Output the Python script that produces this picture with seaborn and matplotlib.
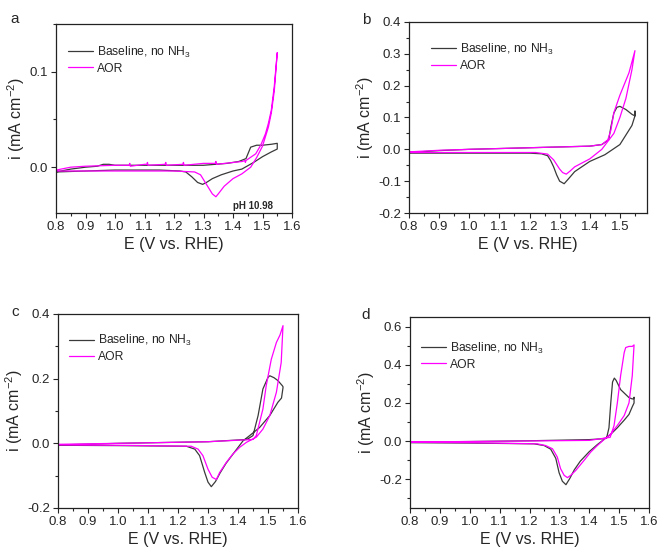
import matplotlib
matplotlib.use("Agg")
import matplotlib.pyplot as plt
from matplotlib.lines import Line2D
from matplotlib.ticker import MultipleLocator, FormatStrFormatter
import seaborn as sns
import pandas as pd

# ---------------- data (closed CV loops: forward then reverse) ----------------
a_base_E = [0.80, 0.85, 0.90, 0.94, 0.96, 0.98, 1.00, 1.10, 1.20, 1.30, 1.38, 1.42, 1.444, 1.46, 1.48, 1.50, 1.53, 1.55,
            1.55, 1.53, 1.50, 1.47, 1.43, 1.40, 1.36, 1.33, 1.31, 1.297, 1.28, 1.26, 1.24, 1.22, 1.15, 1.00, 0.90, 0.80]
a_base_i = [-0.005, -0.002, 0.000, 0.001, 0.003, 0.003, 0.002, 0.002, 0.002, 0.002, 0.004, 0.006, 0.009, 0.021, 0.023, 0.023, 0.024, 0.025,
            0.019, 0.016, 0.011, 0.005, -0.002, -0.004, -0.008, -0.012, -0.016, -0.018, -0.016, -0.010, -0.005, -0.004, -0.003, -0.003, -0.004, -0.005]
a_aor_E = [0.800, 0.801, 0.85, 0.90, 1.00, 1.048, 1.050, 1.052, 1.10, 1.108, 1.11, 1.112, 1.17, 1.172, 1.174, 1.23, 1.232, 1.234,
           1.30, 1.34, 1.342, 1.344, 1.432, 1.44, 1.442, 1.444, 1.477, 1.494, 1.51, 1.52, 1.53, 1.54, 1.55,
           1.55, 1.54, 1.53, 1.52, 1.50, 1.48, 1.46, 1.43, 1.40, 1.37, 1.35, 1.342, 1.33, 1.31, 1.29, 1.27, 1.20, 1.00, 0.80]
a_aor_i = [-0.037, -0.003, 0.000, 0.001, 0.002, 0.002, 0.004, 0.001, 0.003, 0.003, 0.005, 0.002, 0.003, 0.005, 0.002, 0.003, 0.005, 0.002,
           0.004, 0.004, 0.006, 0.003, 0.006, 0.007, 0.005, 0.007, 0.014, 0.023, 0.035, 0.046, 0.060, 0.085, 0.120,
           0.120, 0.080, 0.057, 0.042, 0.022, 0.010, 0.000, -0.007, -0.012, -0.020, -0.028, -0.031, -0.028, -0.018, -0.008, -0.005, -0.004, -0.004, -0.004]

b_base_E = [0.80, 0.90, 1.00, 1.20, 1.40, 1.44, 1.463, 1.47, 1.48, 1.49, 1.50, 1.52, 1.54, 1.55, 1.55,
            1.55, 1.54, 1.52, 1.50, 1.45, 1.40, 1.35, 1.33, 1.315, 1.30, 1.29, 1.28, 1.27, 1.26, 1.24, 1.20, 1.00, 0.80]
b_base_i = [-0.010, -0.004, 0.000, 0.005, 0.010, 0.015, 0.030, 0.070, 0.114, 0.132, 0.135, 0.125, 0.110, 0.105, 0.120,
            0.105, 0.075, 0.045, 0.015, -0.017, -0.038, -0.070, -0.092, -0.108, -0.100, -0.080, -0.055, -0.035, -0.020, -0.014, -0.012, -0.012, -0.012]
b_aor_E = [0.80, 0.90, 1.00, 1.20, 1.40, 1.44, 1.46, 1.47, 1.48, 1.50, 1.53, 1.55,
           1.55, 1.54, 1.52, 1.50, 1.48, 1.46, 1.44, 1.40, 1.35, 1.335, 1.322, 1.31, 1.30, 1.28, 1.26, 1.22, 1.00, 0.80]
b_aor_i = [-0.008, -0.003, 0.000, 0.005, 0.010, 0.015, 0.030, 0.060, 0.115, 0.170, 0.240, 0.310,
           0.310, 0.250, 0.160, 0.100, 0.050, 0.025, 0.000, -0.030, -0.055, -0.068, -0.078, -0.073, -0.062, -0.033, -0.015, -0.010, -0.010, -0.010]

c_base_E = [0.80, 1.00, 1.30, 1.43, 1.45, 1.467, 1.483, 1.50, 1.506, 1.52, 1.533, 1.548, 1.55,
            1.55, 1.545, 1.533, 1.506, 1.472, 1.439, 1.417, 1.39, 1.36, 1.34, 1.325, 1.311, 1.30, 1.289, 1.272, 1.256, 1.228, 1.00, 0.80]
c_base_i = [-0.005, 0.000, 0.005, 0.012, 0.024, 0.086, 0.168, 0.204, 0.209, 0.203, 0.194, 0.178, 0.175,
            0.172, 0.140, 0.127, 0.086, 0.049, 0.024, 0.008, -0.025, -0.062, -0.092, -0.118, -0.134, -0.120, -0.090, -0.038, -0.018, -0.009, -0.007, -0.006]
c_aor_E = [0.80, 1.00, 1.30, 1.45, 1.461, 1.483, 1.494, 1.511, 1.528, 1.54, 1.55,
           1.55, 1.544, 1.528, 1.506, 1.483, 1.461, 1.428, 1.406, 1.383, 1.361, 1.339, 1.328, 1.314, 1.30, 1.283, 1.267, 1.244, 1.00, 0.80]
c_aor_i = [-0.003, 0.000, 0.005, 0.012, 0.024, 0.106, 0.178, 0.260, 0.312, 0.335, 0.364,
           0.364, 0.250, 0.158, 0.086, 0.044, 0.019, 0.003, -0.012, -0.033, -0.059, -0.090, -0.112, -0.105, -0.080, -0.038, -0.018, -0.009, -0.006, -0.005]

d_base_E = [0.80, 1.00, 1.20, 1.40, 1.44, 1.458, 1.466, 1.472, 1.478, 1.484, 1.49, 1.505, 1.533, 1.544, 1.548, 1.55,
            1.55, 1.544, 1.533, 1.517, 1.494, 1.472, 1.45, 1.427, 1.40, 1.37, 1.35, 1.335, 1.322, 1.31, 1.299, 1.288, 1.271, 1.249, 1.215, 1.00, 0.80]
d_base_i = [-0.005, -0.002, 0.002, 0.008, 0.012, 0.016, 0.070, 0.200, 0.310, 0.330, 0.318, 0.270, 0.228, 0.221, 0.222, 0.230,
            0.200, 0.180, 0.140, 0.110, 0.070, 0.036, 0.010, -0.018, -0.055, -0.105, -0.150, -0.195, -0.228, -0.210, -0.165, -0.090, -0.042, -0.023, -0.014, -0.010, -0.008]
d_aor_E = [0.80, 1.00, 1.20, 1.40, 1.47, 1.483, 1.494, 1.505, 1.517, 1.522, 1.533, 1.544, 1.55,
           1.55, 1.544, 1.533, 1.517, 1.494, 1.472, 1.45, 1.427, 1.405, 1.383, 1.355, 1.338, 1.327, 1.316, 1.304, 1.293, 1.277, 1.254, 1.226, 1.00, 0.80]
d_aor_i = [-0.004, -0.002, 0.001, 0.004, 0.020, 0.082, 0.200, 0.343, 0.464, 0.490, 0.496, 0.496, 0.504,
           0.504, 0.343, 0.200, 0.134, 0.082, 0.038, 0.009, -0.023, -0.057, -0.100, -0.153, -0.179, -0.191, -0.179, -0.144, -0.083, -0.040, -0.023, -0.014, -0.008, -0.006]

series_names = ["Baseline, no NH$_3$", "AOR"]
series_colors = ["#3a3a3a", "#ff00ff"]
panel_letters = ["a", "b", "c", "d"]
ylims = [(-0.048, 0.15), (-0.2, 0.4), (-0.2, 0.4), (-0.35, 0.65)]
xlims = [(0.8, 1.6), (0.8, 1.59), (0.8, 1.6), (0.8, 1.6)]
ymajor = [0.1, 0.1, 0.2, 0.2]
yminor = [0.05, 0.05, 0.1, 0.1]

panels = [
    (a_base_E, a_base_i, a_aor_E, a_aor_i),
    (b_base_E, b_base_i, b_aor_E, b_aor_i),
    (c_base_E, c_base_i, c_aor_E, c_aor_i),
    (d_base_E, d_base_i, d_aor_E, d_aor_i),
]

# ---------------- style ----------------
sns.set_style("ticks")
plt.rcParams["font.family"] = ["Liberation Sans", "DejaVu Sans"]
plt.rcParams["mathtext.fontset"] = "custom"
plt.rcParams["mathtext.rm"] = "Liberation Sans"
plt.rcParams["mathtext.it"] = "Liberation Sans:italic"
plt.rcParams["mathtext.default"] = "regular"
plt.rcParams["axes.linewidth"] = 0.9
plt.rcParams["xtick.direction"] = "out"
plt.rcParams["ytick.direction"] = "out"

fig = plt.figure(figsize=(6.57, 5.52), dpi=100)
W, H = 657.0, 552.0
boxes = [(56, 24, 292, 213), (409, 22, 647, 213), (58, 314, 298, 508), (410, 317, 649, 508)]
letter_pos = [(15, 19), (366, 20), (15, 312), (366, 315)]
legend_anchor = [(0.0, 0.955), (0.04, 0.96), (-0.005, 0.965), (-0.005, 0.94)]

for k, (bE, bi, aE, ai) in enumerate(panels):
    l, t, r, b = boxes[k]
    ax = fig.add_axes([l / W, 1 - b / H, (r - l) / W, (b - t) / H])
    df = pd.concat([
        pd.DataFrame({"E": bE, "i": bi, "series": series_names[0]}),
        pd.DataFrame({"E": aE, "i": ai, "series": series_names[1]}),
    ], ignore_index=True)
    sns.lineplot(data=df, x="E", y="i", hue="series", palette=series_colors,
                 sort=False, estimator=None, linewidth=0.9, legend=False, ax=ax)
    ax.set_xlim(*xlims[k])
    ax.set_ylim(*ylims[k])
    ax.xaxis.set_major_locator(MultipleLocator(0.1))
    ax.xaxis.set_minor_locator(MultipleLocator(0.05))
    ax.yaxis.set_major_locator(MultipleLocator(ymajor[k]))
    ax.yaxis.set_minor_locator(MultipleLocator(yminor[k]))
    ax.xaxis.set_major_formatter(FormatStrFormatter("%.1f"))
    ax.yaxis.set_major_formatter(FormatStrFormatter("%.1f"))
    ax.tick_params(which="major", length=3.5, width=0.8, labelsize=9.5, pad=2)
    ax.tick_params(which="minor", length=2, width=0.8)
    for sp in ax.spines.values():
        sp.set_visible(True)
        sp.set_color("#222222")
    ax.set_xlabel("E (V vs. RHE)", fontsize=11.5, labelpad=3)
    ax.set_ylabel("i (mA cm$^{-2}$)", fontsize=11.5, labelpad=2)
    handles = [Line2D([], [], color=c, lw=0.9) for c in series_colors]
    ax.legend(handles, series_names, loc="upper left", frameon=False, fontsize=8.7,
              handlelength=2.1, handletextpad=0.3, labelspacing=0.25,
              bbox_to_anchor=legend_anchor[k], borderaxespad=0.6)
    fig.text(letter_pos[k][0] / W, 1 - letter_pos[k][1] / H, panel_letters[k],
             fontsize=11, ha="center", va="center")
    if k == 0:
        ax.text(0.92, 0.01, "pH 10.98", transform=ax.transAxes, fontsize=7,
                fontweight="bold", ha="right", va="bottom")

fig.savefig("out.png", dpi=100)
